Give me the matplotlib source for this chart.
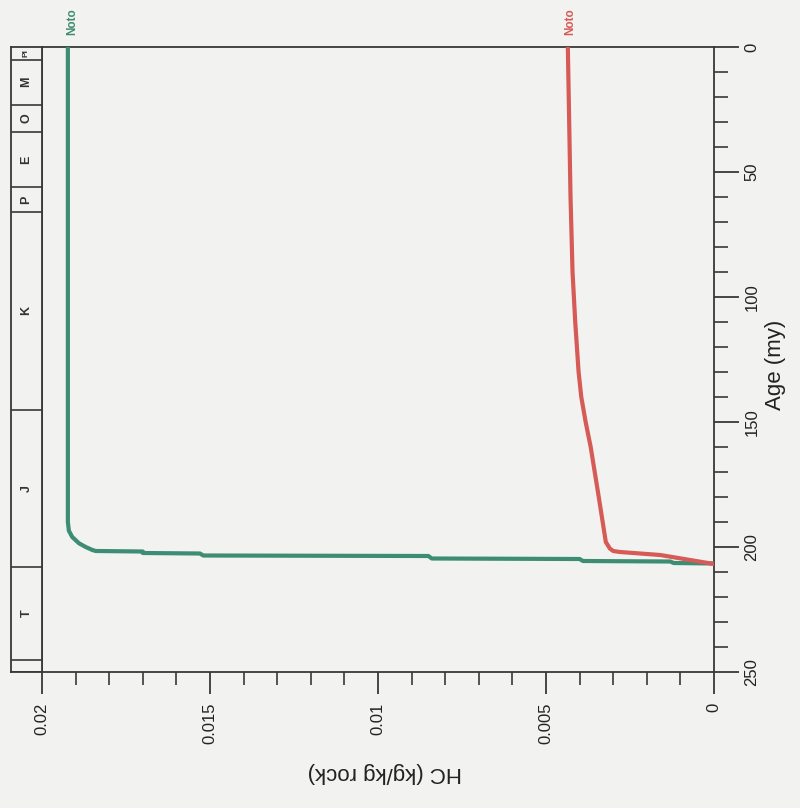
import matplotlib
matplotlib.use('Agg')
import matplotlib.pyplot as plt

# HC generation curves, age (my) vs HC (kg/kg rock)
green_age = [0, 190, 193.5, 196, 198.5, 200, 201.2, 201.6, 201.8, 202.4, 202.6, 203.4, 203.6,
             204.6, 204.8, 205.6, 205.8, 206.4, 206.6]
green_hc = [0.01923, 0.01923, 0.0192, 0.0191, 0.0189, 0.0187, 0.0185, 0.0184, 0.0170, 0.0170,
            0.0153, 0.0152, 0.0085, 0.0084, 0.0040, 0.0039, 0.0013, 0.0012, 0.0]

red_age = [0, 30, 60, 90, 110, 130, 140, 150, 160, 180, 198, 200.6, 201.6, 202, 203.2, 205, 206.8]
red_hc = [0.00435, 0.00431, 0.00427, 0.00421, 0.00413, 0.00403, 0.00395, 0.00382, 0.00367,
          0.00343, 0.00322, 0.00310, 0.00300, 0.00280, 0.00160, 0.00080, 0.0]

# geologic time scale band
period_bounds = [0, 5, 23, 34, 56, 66, 145, 208, 245, 250]
period_labels = ['Pl', 'M', 'O', 'E', 'P', 'K', 'J', 'T', '']

hc_major = [0.02, 0.015, 0.01, 0.005, 0]
hc_labels = ['0.02', '0.015', '0.01', '0.005', '0']
age_major = [0, 50, 100, 150, 200, 250]

GREEN = '#3d8c74'
RED = '#d65a56'
INK = '#383838'
BG = '#f2f2f0'

plt.rcParams['font.family'] = ['Liberation Sans', 'DejaVu Sans']

fig = plt.figure(figsize=(8, 8.08), dpi=100, facecolor=BG)
W, H = 800, 808
l, r, t, b = 42, 714, 47, 672
ax = fig.add_axes([l / W, 1 - b / H, (r - l) / W, (b - t) / H])
ax.set_facecolor(BG)
axb = fig.add_axes([11 / W, 1 - b / H, (l - 11) / W, (b - t) / H], sharey=ax)
axb.set_facecolor(BG)

ax.plot(green_hc, green_age, color=GREEN, lw=3.0, solid_joinstyle='round', zorder=3)
ax.plot(red_hc, red_age, color=RED, lw=3.0, solid_joinstyle='round', zorder=3)

ax.set_xlim(0.02, 0)
ax.set_ylim(250, 0)

for s in ax.spines.values():
    s.set_color(INK)
    s.set_linewidth(1.3)

ax.set_xticks(hc_major)
ax.set_xticklabels(hc_labels)
ax.set_xticks([i * 0.001 for i in range(21)], minor=True)
ax.tick_params(axis='x', which='major', direction='out', length=16, width=1.3, color=INK,
               labelsize=12, labelrotation=90, pad=6, labelcolor='#222222')
ax.tick_params(axis='x', which='minor', direction='out', length=9, width=1.2, color=INK)

ax.yaxis.tick_right()
ax.set_yticks(age_major)
ax.set_yticks(list(range(0, 251, 10)), minor=True)
ax.tick_params(axis='y', which='major', direction='out', length=18, width=1.3, color=INK,
               labelsize=12, labelrotation=90, pad=4, labelcolor='#222222')
ax.tick_params(axis='y', which='minor', direction='out', length=10, width=1.2, color=INK)
for lab in ax.get_yticklabels():
    lab.set_verticalalignment('center')

fig.text(385 / W, 1 - 773 / H, 'HC (kg/kg rock)', rotation=180, ha='center', va='center',
         fontsize=16, color='#222222')
fig.text(775 / W, 1 - 365 / H, 'Age (my)', rotation=90, ha='center', va='center',
         fontsize=16, color='#222222')

# curve name labels above the plot
fig.text(72 / W, 1 - 22 / H, 'Noto', rotation=90, ha='center', va='center', fontsize=8.5,
         fontweight='bold', color=GREEN)
fig.text(570 / W, 1 - 22 / H, 'Noto', rotation=90, ha='center', va='center', fontsize=8.5,
         fontweight='bold', color=RED)

# time scale band
axb.set_xlim(0, 1)
axb.set_xticks([])
axb.tick_params(axis='y', which='both', left=False, right=False,
                labelleft=False, labelright=False)
for s in axb.spines.values():
    s.set_color(INK)
    s.set_linewidth(1.3)
for a0, a1, name in zip(period_bounds[:-1], period_bounds[1:], period_labels):
    axb.axhline(a1, color=INK, lw=1.2)
    fs = 6 if a1 - a0 < 8 else 9
    axb.text(0.5, (a0 + a1) / 2, name, rotation=90, ha='center', va='center',
             fontsize=fs, fontweight='bold', color='#333333')

fig.savefig('out.png', dpi=100, facecolor=BG)
